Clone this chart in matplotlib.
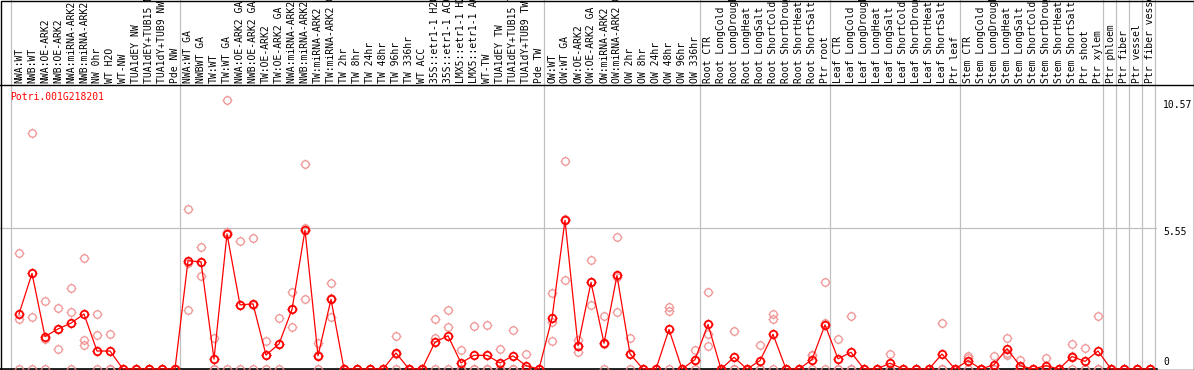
import numpy as np
import matplotlib
matplotlib.use('Agg')
import matplotlib.pyplot as plt
from matplotlib.path import Path
from matplotlib.lines import Line2D
from matplotlib.patches import Rectangle
from matplotlib.transforms import blended_transform_factory

gene = 'Potri.001G218201'

samples = [
    'NWA:WT', 'NWB:WT', 'NWA:OE-ARK2', 'NWB:OE-ARK2', 'NWA:miRNA-ARK2', 'NWB:miRNA-ARK2',
    'NW 0hr', 'WT H2O', 'WT-NW', 'TUA1dEY NW', 'TUA1dEY+TUB15 NW', 'TUA1dY+TUB9 NW', 'Pde NW',
    'NWA:WT GA', 'NWBWT GA', 'TW:WT', 'TW:WT GA', 'NWA:OE-ARK2 GA', 'NWB:OE-ARK2 GA',
    'TW:OE-ARK2', 'TW:OE-ARK2 GA', 'NWA:miRNA-ARK2 GA', 'NWB:miRNA-ARK2 GA', 'TW:miRNA-ARK2',
    'TW:miRNA-ARK2 GA', 'TW 2hr', 'TW 8hr', 'TW 24hr', 'TW 48hr', 'TW 96hr', 'TW 336hr', 'WT ACC',
    '35S::etr1-1 H2O', '35S::etr1-1 ACC', 'LMX5::etr1-1 H2O', 'LMX5::etr1-1 ACC', 'WT-TW',
    'TUA1dEY TW', 'TUA1dEY+TUB15 TW', 'TUA1dY+TUB9 TW', 'Pde TW',
    'OW:WT', 'OW:WT GA', 'OW:OE-ARK2', 'OW:OE-ARK2 GA', 'OW:miRNA-ARK2', 'OW:miRNA-ARK2 GA',
    'OW 2hr', 'OW 8hr', 'OW 24hr', 'OW 48hr', 'OW 96hr', 'OW 336hr',
    'Root CTR', 'Root LongCold', 'Root LongDrought', 'Root LongHeat', 'Root LongSalt',
    'Root ShortCold', 'Root ShortDrought', 'Root ShortHeat', 'Root ShortSalt', 'Ptr root',
    'Leaf CTR', 'Leaf LongCold', 'Leaf LongDrought', 'Leaf LongHeat', 'Leaf LongSalt',
    'Leaf ShortCold', 'Leaf ShortDrought', 'Leaf ShortHeat', 'Leaf ShortSalt', 'Ptr leaf',
    'Stem CTR', 'Stem LongCold', 'Stem LongDrought', 'Stem LongHeat', 'Stem LongSalt',
    'Stem ShortCold', 'Stem ShortDrought', 'Stem ShortHeat', 'Stem ShortSalt', 'Ptr shoot',
    'Ptr xylem', 'Ptr phloem', 'Ptr fiber', 'Ptr vessel', 'Ptr fiber vessel',
]

# mean expression per sample
means = [
    2.17, 3.77, 1.28, 1.58, 1.81, 2.17, 0.71, 0.71, 0, 0, 0, 0, 0,
    4.27, 4.23, 0.39, 5.33, 2.53, 2.57, 0.55, 0.99, 2.35, 5.48, 0.52, 2.75,
    0, 0, 0, 0, 0.63, 0, 0, 1.06, 1.31, 0.24, 0.54, 0.54, 0.24, 0.52, 0.13, 0,
    2.00, 5.87, 0.92, 3.42, 1.02, 3.69, 0.60, 0, 0, 1.56, 0, 0.37,
    1.76, 0, 0.46, 0, 0.33, 1.37, 0, 0, 0.37, 1.74,
    0.40, 0.66, 0, 0, 0.23, 0, 0, 0, 0.59, 0,
    0.33, 0, 0.17, 0.80, 0.13, 0, 0.13, 0, 0.49, 0.30, 0.71,
    0, 0, 0, 0,
]

# replicate values per sample
reps = [
    [4.56, 1.96, 0], [9.30, 2.04, 0], [2.67, 1.17, 0], [2.39, 1.57, 0.78], [3.18, 2.24, 0],
    [4.37, 1.14, 0.95], [2.17, 1.33, 0], [1.37, 0, 0], [0, 0, 0], [0, 0, 0], [0, 0, 0],
    [0, 0, 0], [0, 0, 0],
    [6.30, 4.18, 2.33], [4.80, 4.23, 3.66], [1.21, 0, 0], [10.60, 5.40, 0], [5.05, 2.54, 0],
    [5.17, 2.54, 0], [1.11, 0.55, 0], [2.00, 1.00, 0], [3.04, 2.36, 1.65], [8.10, 5.56, 2.78],
    [1.02, 0.54, 0], [3.38, 2.80, 2.07], [0, 0, 0], [0, 0, 0], [0, 0, 0], [0, 0, 0],
    [1.31, 0.58, 0], [0, 0, 0], [0, 0, 0], [1.97, 1.22, 0], [2.33, 1.65, 0], [0.76, 0, 0],
    [1.68, 0, 0], [1.72, 0, 0], [0.80, 0, 0], [1.54, 0, 0], [0.58, 0, 0], [0, 0, 0],
    [2.98, 1.86, 1.11], [8.19, 5.90, 3.53], [1.14, 0.92, 0.68], [4.29, 3.45, 2.51],
    [2.08, 1.00, 0], [5.20, 3.63, 2.24], [1.22, 0.60, 0], [0, 0, 0], [0, 0, 0],
    [2.44, 2.27, 0], [0, 0, 0], [0.76, 0.35, 0],
    [3.02, 1.40, 0.89], [0, 0, 0], [1.50, 0, 0], [0, 0, 0], [0.94, 0, 0], [2.15, 1.98, 0],
    [0, 0, 0], [0, 0, 0], [0.56, 0.55, 0], [3.45, 1.80, 0],
    [1.17, 0, 0], [2.08, 0, 0], [0, 0, 0], [0, 0, 0], [0.60, 0, 0], [0, 0, 0], [0, 0, 0],
    [0, 0, 0], [1.80, 0, 0], [0, 0, 0],
    [0.50, 0.45, 0], [0, 0, 0], [0.50, 0, 0], [1.22, 0.64, 0.54], [0.37, 0, 0], [0, 0, 0],
    [0.45, 0, 0], [0, 0, 0], [0.97, 0.50, 0], [0.82, 0, 0], [2.11, 0, 0],
    [0, 0, 0], [0, 0, 0], [0, 0, 0], [0, 0, 0],
]

# vertical separators between sample groups
separators = [-0.65, 12.4, 40.4, 52.4, 62.4, 72.4, 83.4, 84.4, 85.4, 86.4, 87.4]
yticks = [0, 5.55, 10.57]
ytick_labels = ['0', '5.55', '10.57']

RED = '#ff0000'
PINK = '#f09090'
GRID = '#c0c0c0'
FONT = 'DejaVu Sans Mono'

# four little ticks sitting just outside the circle marker
tick_v = [(0, 1), (0, 1.28), (0, -1), (0, -1.28), (1, 0), (1.28, 0), (-1, 0), (-1.28, 0)]
ticks_mk = Path(tick_v, [Path.MOVETO, Path.LINETO] * 4)
circle_ms = 5.4

W, H = 1194, 370
fig = plt.figure(figsize=(W / 100, H / 100), dpi=100)
ax_left, ax_right, ax_top, ax_bot = 0, 1157, 85, 369
ax = fig.add_axes([ax_left / W, (H - ax_bot) / H, (ax_right - ax_left) / W, (ax_bot - ax_top) / H])

px_per_col = 13.0
x0 = -19 / px_per_col
ax.set_xlim(x0, x0 + (ax_right - ax_left) / px_per_col)
ax.set_ylim(0, (ax_bot - ax_top) / 25.35)

x = np.arange(len(samples))

rx, ry = [], []
for i, r in enumerate(reps):
    for v in r:
        rx.append(i)
        ry.append(v)
ax.plot(rx, ry, ls='none', marker='o', ms=circle_ms, mfc='none', mec=PINK, mew=0.9, zorder=3,
        clip_on=False)
ax.plot(rx, ry, ls='none', marker=ticks_mk, ms=circle_ms * 1.28, mec=PINK, mew=0.7, zorder=3,
        clip_on=False)
ax.plot(x, means, color=RED, lw=0.9, zorder=4, clip_on=False)
ax.plot(x, means, ls='none', marker='o', ms=circle_ms, mfc='none', mec=RED, mew=1.3, zorder=5,
        clip_on=False)
ax.plot(x, means, ls='none', marker=ticks_mk, ms=circle_ms * 1.28, mec=RED, mew=0.9, zorder=5,
        clip_on=False)

trans = blended_transform_factory(ax.transData, ax.transAxes)
top_frac = (ax_bot - 0) / (ax_bot - ax_top)
for s in separators:
    ax.plot([s, s], [0, top_frac], color=GRID, lw=0.9, transform=trans, clip_on=False, zorder=1)
ax.axhline(5.55, color=GRID, lw=0.9, zorder=1)

for i, lab in enumerate(samples):
    ax.text(i, 1 + 2 / (ax_bot - ax_top), lab, transform=trans, rotation=90, ha='center',
            va='bottom', fontsize=7, family=FONT, color='black', clip_on=False)

ax.text(10 / (ax_right - ax_left), (ax_bot - 97) / (ax_bot - ax_top), gene, transform=ax.transAxes,
        ha='left', va='center', fontsize=7, family=FONT, color=RED)

ytrans = blended_transform_factory(ax.transAxes, ax.transData)
offs = [7, -4, -4]
for v, lab, o in zip(yticks, ytick_labels, offs):
    ax.annotate(lab, xy=(1, v), xycoords=ytrans, xytext=(6, o), textcoords='offset pixels',
                ha='left', va='center', fontsize=7, family=FONT, annotation_clip=False)

ax.set_xticks([])
ax.set_yticks([])
for side in ['top', 'right', 'left']:
    ax.spines[side].set_visible(False)
ax.spines['bottom'].set_color('black')
ax.spines['bottom'].set_linewidth(1.2)
ax.patch.set_alpha(0)

# outer frame and the line under the labels
fig.add_artist(Line2D([0, 1], [(H - ax_top) / H] * 2, transform=fig.transFigure, color='black', lw=1))
fig.add_artist(Rectangle((0.5 / W, 0.5 / H), 1 - 1 / W, 1 - 1 / H, transform=fig.transFigure,
                         fill=False, ec='black', lw=1))

fig.savefig('out.png', dpi=100)
